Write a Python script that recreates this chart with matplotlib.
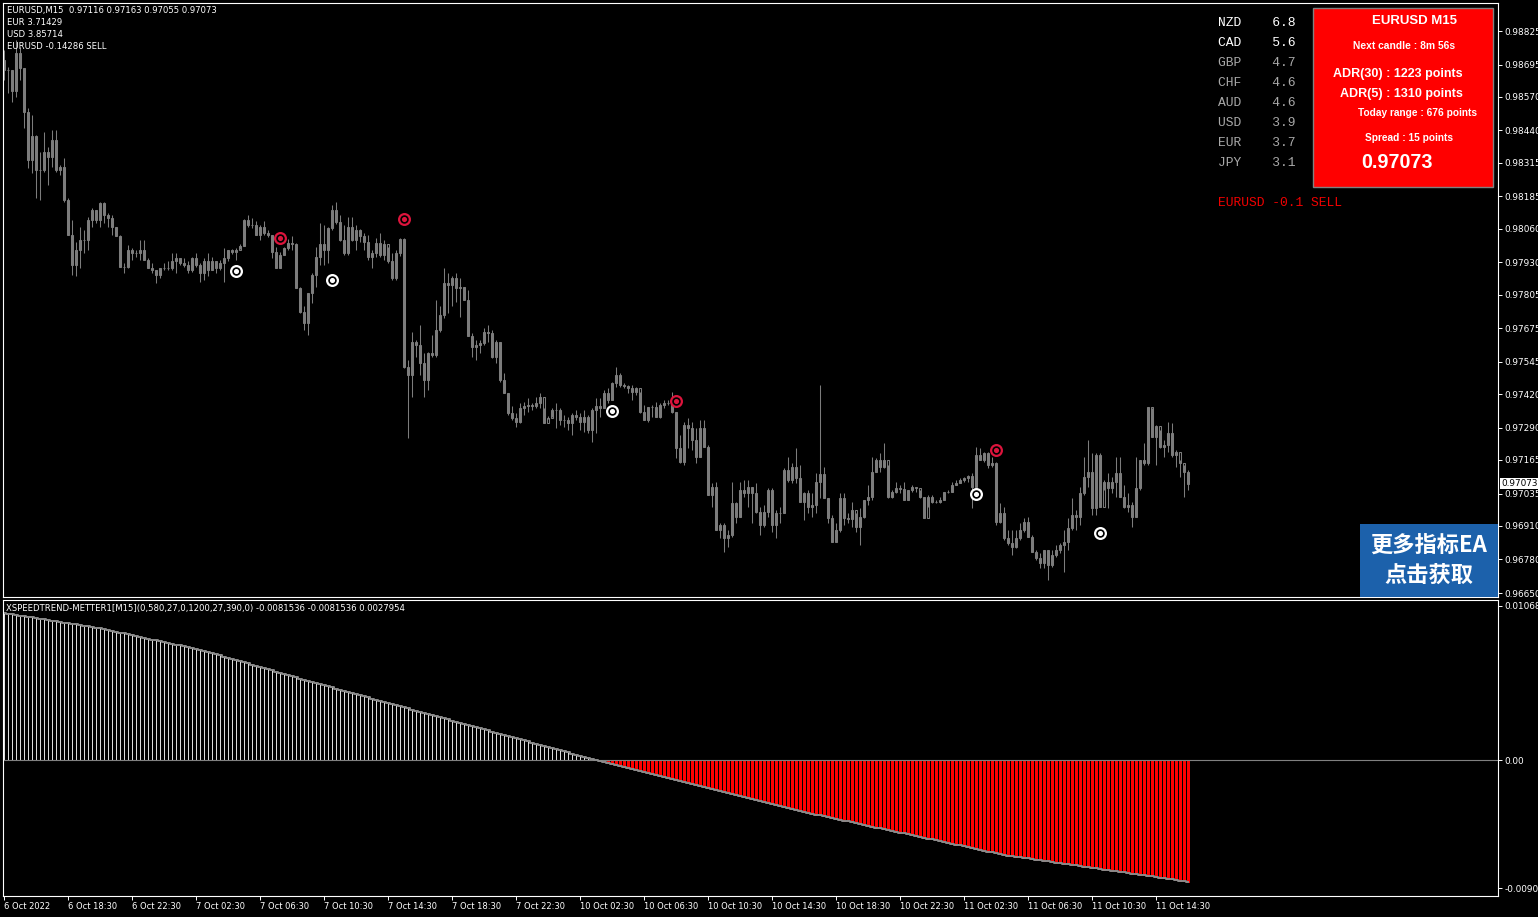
import matplotlib
matplotlib.use("Agg")
import matplotlib.pyplot as plt
import numpy as np

# EURUSD M15 candles, prices in points (1e-5)
first_open = 98713
highs = [
    98752, 98687, 98675, 98791, 98765, 98681, 98526, 98500, 98423, 98358,
    98436, 98378, 98442, 98442, 98307, 98333, 98178, 98094, 98010, 98068,
    98055, 98107, 98139, 98133, 98165, 98165, 98120, 98113, 98068, 98036,
    97926, 97997, 97984, 97978, 98017, 98017, 97946, 97926, 97900, 97907,
    97926, 97933, 97965, 97965, 97946, 97946, 97933, 97952, 97965, 97926,
    97946, 97965, 97952, 97933, 97939, 97984, 97978, 97980, 97984, 98001,
    98097, 98113, 98100, 98088, 98075, 98088, 98055, 98036, 97991, 97971,
    97991, 98019, 98030, 98004, 97836, 97759, 97810, 97888, 97991, 98081,
    98075, 98068, 98152, 98165, 98113, 98075, 98107, 98107, 98075, 98058,
    98042, 98036, 97978, 98023, 98042, 98017, 97991, 97965, 97978, 98023,
    98023, 97552, 97662, 97630, 97688, 97578, 97584, 97649, 97784, 97759,
    97907, 97888, 97875, 97888, 97868, 97836, 97823, 97655, 97630, 97630,
    97675, 97688, 97668, 97630, 97623, 97501, 97423, 97372, 97346, 97385,
    97391, 97404, 97385, 97410, 97423, 97365, 97335, 97365, 97385, 97365,
    97339, 97333, 97346, 97359, 97346, 97359, 97339, 97365, 97404,
    97403, 97436, 97442, 97468, 97526, 97500, 97461, 97455, 97455, 97449,
    97429, 97378, 97371, 97378, 97391, 97384, 97397, 97397, 97429, 97352,
    97262, 97313, 97326, 97313, 97287, 97320, 97320, 97223, 97074, 97081,
    96920, 96920, 96894, 97081, 97004, 97081, 97087, 97087, 97062, 97074,
    96984, 96991, 97055, 97055, 96971, 96984, 97133, 97178, 97152, 97210,
    97145, 97042, 97049, 97036, 97113, 97455, 97139, 97016, 96952, 96920,
    97036, 97036, 96958, 97004, 96958, 96978, 97010, 97068, 97178, 97171,
    97191, 97229, 97145, 97049, 97081, 97068, 97081, 97049, 97068, 97062,
    97049, 97023, 97029, 97029, 97010, 97023, 97042, 97049, 97081, 97087,
    97094, 97100, 97107, 97113, 97216, 97210, 97197, 97197, 97178, 97158,
    96997, 96984, 96894, 96894, 96894, 96920, 96939, 96946, 96875, 96817,
    96804, 96817, 96817, 96817, 96836, 96842, 96894, 96939, 97016, 96971,
    97062, 97178, 97242, 97191, 97191, 97191, 97087, 97113, 97100, 97178,
    97178, 97068, 97036, 97004, 97178, 97165, 97229, 97371, 97365, 97300,
    97281, 97242, 97313, 97307, 97203, 97165, 97145, 97126,
]
lows = [
    98636, 98584, 98552, 98571, 98636, 98449, 98294, 98275, 98178, 98171,
    98281, 98229, 98300, 98281, 98268, 98165, 98036, 97881, 97875, 97907,
    97965, 97978, 98068, 98081, 98068, 98081, 98068, 98036, 98030, 97913,
    97888, 97907, 97939, 97952, 97939, 97939, 97907, 97888, 97849, 97868,
    97900, 97900, 97900, 97888, 97920, 97913, 97888, 97894, 97913, 97855,
    97862, 97875, 97900, 97888, 97900, 97855, 97933, 97962, 97939, 97980,
    97993, 98066, 98062, 98036, 98017, 98036, 98027, 97946, 97907, 97907,
    97959, 97978, 97978, 97830, 97733, 97668, 97649, 97772, 97836, 97920,
    97920, 97926, 98053, 98079, 98014, 97959, 97959, 98014, 97978, 98010,
    97978, 97939, 97907, 97950, 97950, 97937, 97926, 97862, 97862, 97955,
    97520, 97249, 97410, 97565, 97494, 97410, 97436, 97565, 97565, 97662,
    97713, 97733, 97759, 97778, 97720, 97784, 97643, 97565, 97552, 97578,
    97610, 97623, 97559, 97539, 97468, 97423, 97339, 97320, 97294, 97307,
    97339, 97352, 97359, 97365, 97365, 97307, 97322, 97333, 97288, 97301,
    97294, 97281, 97262, 97320, 97281, 97275, 97268, 97236, 97268,
    97332, 97365, 97384, 97397, 97449, 97449, 97442, 97423, 97397, 97416,
    97345, 97320, 97313, 97332, 97332, 97326, 97365, 97378, 97345, 97171,
    97152, 97145, 97210, 97203, 97152, 97178, 97216, 97029, 96984, 96894,
    96862, 96810, 96829, 96868, 96920, 96946, 97023, 96984, 96920, 96958,
    96875, 96907, 96946, 96887, 96862, 96920, 96958, 97081, 97074, 97074,
    97004, 96933, 96958, 96946, 96958, 97016, 97016, 96920, 96849, 96849,
    96887, 96913, 96920, 96907, 96887, 96836, 96939, 96991, 97010, 97120,
    97120, 97133, 97016, 97016, 97036, 97036, 97010, 97010, 97042, 97042,
    97016, 96939, 96984, 96997, 96997, 96997, 97010, 97036, 97042, 97068,
    97074, 97081, 97081, 96978, 97062, 97165, 97158, 97133, 97139, 96913,
    96920, 96855, 96836, 96797, 96823, 96855, 96887, 96868, 96810, 96778,
    96746, 96746, 96700, 96752, 96791, 96804, 96733, 96817, 96894, 96894,
    96913, 97029, 97062, 96952, 96952, 96984, 97049, 96978, 97036, 97023,
    97023, 96978, 96965, 96907, 96946, 97049, 97145, 97145, 97255, 97145,
    97210, 97178, 97197, 97178, 97139, 97100, 97023, 97049,
]
closes = [
    98675, 98675, 98591, 98739, 98681, 98513, 98326, 98417, 98288, 98288,
    98358, 98339, 98404, 98288, 98300, 98171, 98036, 97920, 97978, 98017,
    98017, 98094, 98133, 98094, 98159, 98113, 98100, 98068, 98032, 97913,
    97913, 97978, 97965, 97965, 97978, 97939, 97907, 97900, 97881, 97907,
    97907, 97907, 97933, 97946, 97926, 97920, 97900, 97946, 97920, 97888,
    97933, 97900, 97933, 97907, 97926, 97946, 97978, 97971, 97978, 97993,
    98094, 98075, 98075, 98036, 98068, 98042, 98036, 97971, 97907, 97959,
    97984, 98004, 98001, 97830, 97739, 97694, 97810, 97881, 97952, 98001,
    97978, 98062, 98133, 98084, 98017, 97965, 98068, 98017, 98055, 98030,
    98010, 97952, 97965, 98004, 97959, 98001, 97933, 97868, 97965, 98019,
    97526, 97494, 97623, 97610, 97539, 97475, 97578, 97572, 97668, 97726,
    97849, 97842, 97868, 97830, 97836, 97784, 97643, 97604, 97610, 97619,
    97662, 97658, 97565, 97623, 97475, 97423, 97346, 97327, 97313, 97365,
    97372, 97378, 97372, 97385, 97410, 97307, 97327, 97359, 97359, 97320,
    97320, 97307, 97339, 97333, 97313, 97333, 97281, 97359, 97372,
    97365, 97423, 97397, 97461, 97494, 97455, 97451, 97442, 97429, 97442,
    97352, 97320, 97371, 97369, 97332, 97378, 97387, 97387, 97352, 97210,
    97158, 97300, 97287, 97242, 97178, 97287, 97216, 97029, 97062, 96894,
    96913, 96862, 96875, 96997, 96946, 97049, 97036, 97062, 97036, 96965,
    96913, 96965, 97049, 96913, 96958, 96961, 97126, 97087, 97139, 97094,
    97004, 97036, 96984, 96991, 97081, 97111, 97016, 96939, 96849, 96894,
    97016, 96939, 96935, 96971, 96907, 96946, 97010, 97023, 97120, 97165,
    97139, 97165, 97023, 97042, 97055, 97051, 97010, 97049, 97062, 97055,
    97023, 96939, 97023, 97004, 97004, 97010, 97042, 97042, 97068, 97077,
    97087, 97094, 97103, 97062, 97184, 97165, 97191, 97145, 97152, 96926,
    96958, 96862, 96842, 96829, 96862, 96894, 96926, 96868, 96810, 96784,
    96765, 96817, 96758, 96797, 96817, 96836, 96849, 96900, 96952, 96946,
    97036, 97100, 97120, 96978, 97184, 96984, 97081, 97055, 97081, 97113,
    97023, 96984, 96991, 96946, 97055, 97165, 97152, 97369, 97255, 97296,
    97216, 97223, 97268, 97184, 97197, 97152, 97120, 97073,
]

# XSPEEDTREND-METTER histogram, in 1e-5
speed = [
    988, 984, 979, 975, 971, 966, 962, 958, 954, 949,
    945, 941, 936, 932, 928, 923, 919, 915, 911, 906,
    902, 898, 893, 889, 885, 879, 874, 868, 862, 856,
    851, 845, 839, 833, 828, 822, 816, 810, 805, 799,
    793, 787, 782, 776, 770, 764, 759, 753, 747, 741,
    733, 726, 718, 710, 703, 695, 687, 679, 672, 664,
    656, 649, 641, 633, 626, 618, 610, 602, 595, 587,
    579, 572, 564, 556, 548, 541, 533, 526, 518, 511,
    504, 496, 489, 481, 474, 466, 459, 452, 444, 437,
    429, 422, 414, 407, 400, 392, 385, 377, 370, 363,
    355, 348, 340, 333, 326, 318, 311, 303, 296, 289,
    281, 274, 266, 259, 252, 244, 237, 229, 222, 215,
    207, 200, 192, 185, 178, 170, 163, 155, 148, 141,
    133, 126, 118, 111, 104, 96, 89, 81, 74, 67,
    59, 52, 44, 37, 30, 22, 15, 7, 0, -7,
    -13, -20, -27, -34, -40, -47, -54, -60, -67, -74,
    -80, -87, -94, -101, -107, -114, -121, -127, -134, -141,
    -147, -154, -161, -168, -174, -181, -188, -194, -201, -208,
    -214, -221, -228, -235, -241, -248, -255, -261, -268, -275,
    -281, -288, -295, -302, -308, -315, -322, -328, -335, -342,
    -348, -354, -360, -365, -371, -377, -383, -388, -394, -400,
    -406, -411, -417, -423, -429, -434, -440, -446, -452, -457,
    -463, -469, -475, -480, -486, -492, -498, -503, -509, -515,
    -521, -526, -532, -538, -544, -549, -555, -561, -567, -572,
    -578, -584, -590, -595, -601, -607, -613, -618, -624, -630,
    -636, -640, -644, -648, -652, -656, -659, -663, -667, -671,
    -675, -679, -683, -687, -691, -695, -698, -702, -706, -710,
    -714, -718, -722, -726, -730, -734, -737, -741, -745, -749,
    -753, -757, -761, -765, -769, -773, -776, -780, -784, -788,
    -792, -796, -800, -804, -808, -812, -815,
]

buy_bars = [58, 82, 152, 243, 274]
buy_prices = [97896, 97861, 97354, 97033, 96882]
sell_bars = [69, 100, 168, 248]
sell_prices = [98024, 98097, 97393, 97203]

price_ticks = [0.98825, 0.98695, 0.98570, 0.98440, 0.98315, 0.98185, 0.98060,
               0.97930, 0.97805, 0.97675, 0.97545, 0.97420, 0.97290, 0.97165,
               0.97035, 0.96910, 0.96780, 0.96650]
sub_labels = ['0.010685', '0.00', '-0.00905']
date_labels = ['6 Oct 2022', '6 Oct 18:30', '6 Oct 22:30', '7 Oct 02:30', '7 Oct 06:30',
               '7 Oct 10:30', '7 Oct 14:30', '7 Oct 18:30', '7 Oct 22:30', '10 Oct 02:30',
               '10 Oct 06:30', '10 Oct 10:30', '10 Oct 14:30', '10 Oct 18:30', '10 Oct 22:30',
               '11 Oct 02:30', '11 Oct 06:30', '11 Oct 10:30', '11 Oct 14:30']
strength_names = ['NZD', 'CAD', 'GBP', 'CHF', 'AUD', 'USD', 'EUR', 'JPY']
strength_vals = [6.8, 5.6, 4.7, 4.6, 4.6, 3.9, 3.7, 3.1]

W, H = 1538, 917
fig = plt.figure(figsize=(W / 100, H / 100), dpi=100, facecolor='black')


def fx(px):
    return px / W


def fy(py):
    return 1 - py / H


gray = '#7c7c7c'
font = 'DejaVu Sans'

ax = fig.add_axes([fx(3), fy(597), (1498 - 3) / W, (597 - 3) / H], facecolor='black')
sub = fig.add_axes([fx(3), fy(896), (1498 - 3) / W, (896 - 600) / H], facecolor='black')

n = len(closes)
x = np.arange(n)
c = np.array(closes) / 1e5
o = np.array([first_open] + closes[:-1]) / 1e5
hi = np.array(highs) / 1e5
lo = np.array(lows) / 1e5

ax.vlines(x, lo, hi, color=gray, linewidth=0.75)
ax.bar(x, np.abs(c - o), bottom=np.minimum(o, c), width=0.55,
       color='black', edgecolor=gray, linewidth=0.75)

# signal arrows
ax.scatter(buy_bars, np.array(buy_prices) / 1e5, s=60, facecolor='black',
           edgecolor='white', linewidth=1.6, zorder=5)
ax.scatter(buy_bars, np.array(buy_prices) / 1e5, s=7, color='white', zorder=6)
ax.scatter(sell_bars, np.array(sell_prices) / 1e5, s=60, facecolor='black',
           edgecolor='#dc143c', linewidth=1.6, zorder=5)
ax.scatter(sell_bars, np.array(sell_prices) / 1e5, s=7, color='#dc143c', zorder=6)

ax.set_xlim(-0.25, 373.5)
ax.set_ylim(0.966346, 0.989334)
ax.yaxis.tick_right()
ax.set_yticks(price_ticks)
ax.set_yticklabels(['%.5f' % v for v in price_ticks])
ax.set_xticks([])
ax.tick_params(axis='y', colors='white', direction='out', length=3, width=0.7,
               labelsize=6.4, pad=1.5)

ax.text(1.002, 0.97073, '0.97073', transform=ax.get_yaxis_transform(), ha='left',
        va='center', fontsize=6.4, color='black', family=font,
        bbox=dict(facecolor='white', edgecolor='none', pad=0.6))

# indicator window
ind = np.array(speed) / 1e5
pos = ind >= 0
sub.vlines(x[pos], 0, ind[pos], color='#dcdcdc', linewidth=0.72, antialiased=False)
# red columns 3px wide (2.16pt at 100 dpi), 1px gap
sub.vlines(x[~pos], ind[~pos], 0, color='#ff0000', linewidth=2.16, antialiased=False)
sub.axhline(0, color='#808080', linewidth=0.8)
sub.plot(x, ind, drawstyle='steps-mid', color='#8a8a8a', linewidth=1.4)
sub.set_xlim(-0.25, 373.5)
sub.set_ylim(-0.009117, 0.010752)
sub.yaxis.tick_right()
# MT4 draws the max/min labels a few pixels inside the window
sub.set_yticks([0.01035, 0.0, -0.00858])
sub.set_yticklabels(sub_labels)
sub.tick_params(axis='y', colors='white', direction='out', length=3, width=0.7,
                labelsize=6.4, pad=1.5)
sub.set_xticks(np.arange(0, 16 * len(date_labels), 16))
sub.set_xticklabels(date_labels)
sub.tick_params(axis='x', colors='white', direction='out', length=3, width=0.7,
                labelsize=6, pad=1.5)
for lbl in sub.get_xticklabels():
    lbl.set_ha('left')

for a in (ax, sub):
    for s in a.spines.values():
        s.set_color('white')
        s.set_linewidth(0.8)

# texts on the main chart
info = ['EURUSD,M15  0.97116 0.97163 0.97055 0.97073', 'EUR 3.71429',
        'USD 3.85714', 'EURUSD -0.14286 SELL']
for i, t in enumerate(info):
    fig.text(fx(7), fy(10 + 12.3 * i), t, color='white', fontsize=6.1, family=font,
             va='center', ha='left')

fig.text(fx(6), fy(608), 'XSPEEDTREND-METTER1[M15](0,580,27,0,1200,27,390,0) '
         '-0.0081536 -0.0081536 0.0027954', color='white', fontsize=6.1, family=font,
         va='center', ha='left')

for i, (nm, v) in enumerate(zip(strength_names, strength_vals)):
    col = 'white' if i < 2 else '#a8a8a8'
    fig.text(fx(1218), fy(23 + 20 * i), '%s    %.1f' % (nm, v), color=col,
             fontsize=9.4, family='Liberation Mono', va='center', ha='left')
fig.text(fx(1218), fy(203), 'EURUSD -0.1 SELL', color='#f00000', fontsize=9.4,
         family='Liberation Mono', va='center', ha='left')

# info box
box = plt.Rectangle((fx(1313), fy(187)), (1493 - 1313) / W, (187 - 8) / H,
                    transform=fig.transFigure, facecolor='#ff0000', edgecolor='#808080',
                    linewidth=1, zorder=3)
fig.add_artist(box)
box_lines = [('EURUSD M15', 1414, 21, 9.5), ('Next candle : 8m 56s', 1404, 46, 7.4),
             ('ADR(30) : 1223 points', 1398, 74, 9.0), ('ADR(5) : 1310 points', 1401, 94, 9.0),
             ('Today range : 676 points', 1418, 113, 7.3), ('Spread : 15 points', 1409, 138, 7.3),
             ('0.97073', 1397, 163, 14.2)]
for t, px, py, fs in box_lines:
    fig.text(fx(px), fy(py), t, color='white', fontsize=fs, fontweight='bold',
             family='Liberation Sans', ha='center', va='center', zorder=4)

# badge
badge = plt.Rectangle((fx(1360), fy(597)), (1498 - 1360) / W, (597 - 524) / H,
                      transform=fig.transFigure, facecolor='#1c61ab', edgecolor='none', zorder=3)
fig.add_artist(badge)
fig.text(fx(1429), fy(545), '更多指标EA', color='white', fontsize=16, fontweight='bold',
         family=['Noto Sans CJK SC', 'DejaVu Sans'], ha='center', va='center', zorder=4)
fig.text(fx(1429), fy(575), '点击获取', color='white', fontsize=16, fontweight='bold',
         family=['Noto Sans CJK SC', 'DejaVu Sans'], ha='center', va='center', zorder=4)

fig.savefig('out.png', dpi=100, facecolor='black')
